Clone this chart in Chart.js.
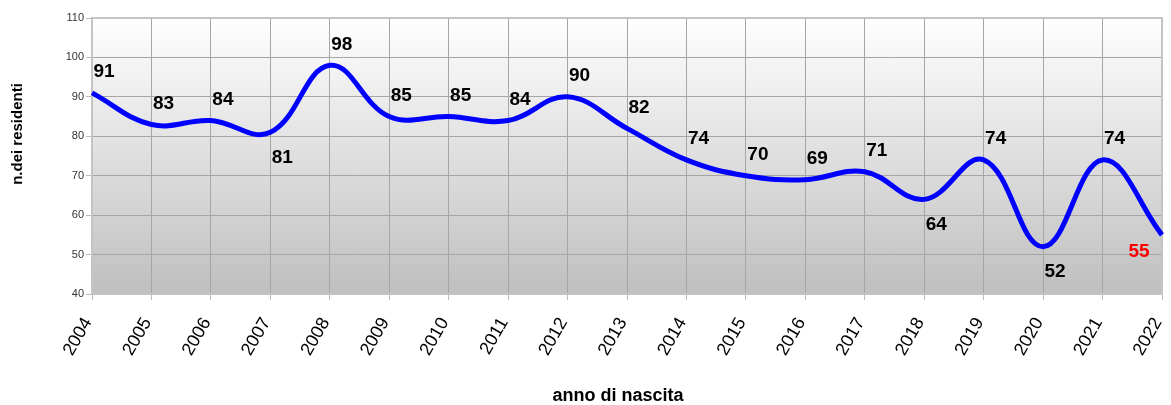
<!DOCTYPE html>
<html>
<head>
<meta charset="utf-8">
<script src="https://cdn.jsdelivr.net/npm/chart.js@4/dist/chart.umd.min.js"></script>
<style>
  html, body { margin: 0; padding: 0; background: #fff; }
  #wrap { width: 1171px; height: 405px; }
</style>
</head>
<body>
<div id="wrap"><canvas id="chart" width="1171" height="405"></canvas></div>
<script>
const years = ['2004', '2005', '2006', '2007', '2008', '2009', '2010', '2011', '2012', '2013',
               '2014', '2015', '2016', '2017', '2018', '2019', '2020', '2021', '2022'];
const residenti = [91, 83, 84, 81, 98, 85, 85, 84, 90, 82, 74, 70, 69, 71, 64, 74, 52, 74, 55];
// label placement: 1 = above, -1 = below
const labelSide = [1, 1, 1, -1, 1, 1, 1, 1, 1, 1, 1, 1, 1, 1, -1, 1, -1, 1, -1];
const xTitle = 'anno di nascita';
const yTitle = 'n.dei residenti';

Chart.defaults.font.family = '"Liberation Sans", Arial, sans-serif';
Chart.defaults.color = '#333';

const plotBackground = {
    id: 'plotBackground',
    beforeDraw(chart) {
        const { ctx, chartArea: a } = chart;
        const g = ctx.createLinearGradient(0, a.top, 0, a.bottom);
        g.addColorStop(0, '#ffffff');
        g.addColorStop(1, '#bfbfbf');
        ctx.save();
        ctx.fillStyle = g;
        ctx.fillRect(a.left, a.top, a.right - a.left, a.bottom - a.top);
        ctx.restore();
    },
    beforeDatasetsDraw(chart) {
        const { ctx, chartArea: a } = chart;
        ctx.save();
        ctx.strokeStyle = '#c4c4c4';
        ctx.lineWidth = 2;
        ctx.strokeRect(a.left, a.top, a.right - a.left, a.bottom - a.top);
        ctx.restore();
    }
};

// axis titles, placed like the original (y title sits a bit above the middle)
const axisTitles = {
    id: 'axisTitles',
    afterDraw(chart) {
        const { ctx } = chart;
        ctx.save();
        ctx.fillStyle = '#000';
        ctx.textAlign = 'center';
        ctx.textBaseline = 'middle';
        ctx.font = 'bold 18px "Liberation Sans", Arial, sans-serif';
        ctx.fillText(xTitle, 618, 396);
        ctx.font = 'bold 15px "Liberation Sans", Arial, sans-serif';
        ctx.translate(18, 134);
        ctx.rotate(-Math.PI / 2);
        ctx.fillText(yTitle, 0, 0);
        ctx.restore();
    }
};

const valueLabels = {
    id: 'valueLabels',
    afterDatasetsDraw(chart) {
        const { ctx } = chart;
        const meta = chart.getDatasetMeta(0);
        ctx.save();
        ctx.font = 'bold 19px "Liberation Sans", Arial, sans-serif';
        ctx.textAlign = 'center';
        ctx.textBaseline = 'middle';
        meta.data.forEach((pt, i) => {
            const last = i === residenti.length - 1;
            let x = pt.x + (last ? -23 : 12);
            let y = pt.y + (labelSide[i] > 0 ? -21 : 25);
            if (last) y = pt.y + 17;
            ctx.fillStyle = last ? '#ff0000' : '#000';
            ctx.fillText(String(residenti[i]), x, y);
        });
        ctx.restore();
    }
};

new Chart(document.getElementById('chart'), {
    type: 'line',
    data: {
        labels: years,
        datasets: [{
            data: residenti,
            borderColor: '#0000ff',
            borderWidth: 5,
            tension: 0.4,
            pointRadius: 0,
            fill: false
        }]
    },
    options: {
        responsive: false,
        animation: false,
        layout: { padding: { top: 18, right: 9, left: 0, bottom: 0 } },
        plugins: { legend: { display: false }, tooltip: { enabled: false } },
        scales: {
            x: {
                offset: false,
                afterFit(scale) {
                    scale.height = 111;
                    scale.paddingRight = 0;
                    scale.paddingLeft = 0;
                },
                grid: { color: '#a6a6a6', lineWidth: 1, tickLength: 6, tickColor: '#bbb' },
                border: { display: false },
                ticks: {
                    maxRotation: 60, minRotation: 60, padding: 14, labelOffset: -4,
                    font: { size: 18 }, color: '#000'
                }
            },
            y: {
                min: 40, max: 110,
                afterFit(scale) {
                    scale.width = 92;
                    scale.paddingTop = 0;
                    scale.paddingBottom = 0;
                },
                grid: { color: '#a6a6a6', lineWidth: 1, tickLength: 6, tickColor: '#bbb' },
                border: { display: false },
                ticks: { stepSize: 10, padding: 2, font: { size: 11 }, color: '#333' }
            }
        }
    },
    plugins: [plotBackground, valueLabels, axisTitles]
});
</script>
</body>
</html>
